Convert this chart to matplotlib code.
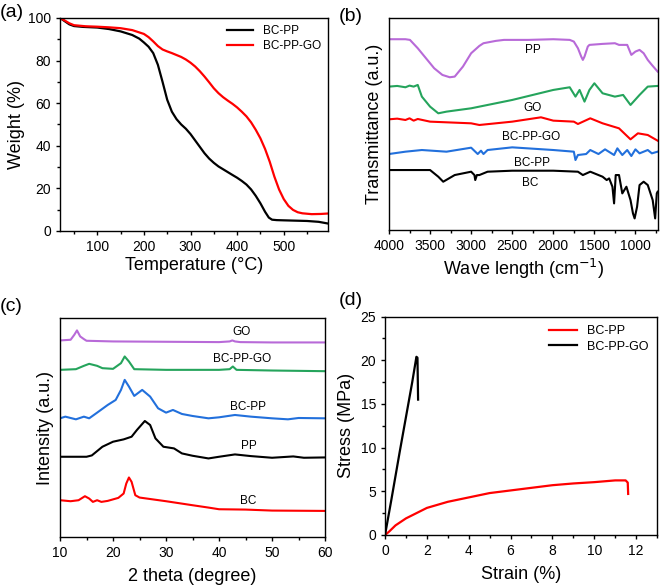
import matplotlib.pyplot as plt
from matplotlib.ticker import MultipleLocator

plt.rcParams['font.family'] = ['Liberation Sans', 'DejaVu Sans']

# (a) TGA
tga_t = [20, 30, 40, 50, 70, 100, 125, 150, 175, 190, 200, 210, 220, 230, 240, 250, 260, 270,
         280, 290, 300, 310, 320, 330, 340, 350, 360, 375, 390, 400, 410, 420, 430, 440, 450,
         460, 468, 475, 485, 500, 550, 575, 595]
tga_bcpp = [100, 98.5, 97, 96.2, 95.8, 95.5, 94.8, 93.7, 92, 90.3, 88.5, 86.5, 83.5, 78, 70,
            61.6, 56, 52.5, 50, 48, 45.5, 42.5, 39.5, 36.5, 34, 32, 30.3, 28.3, 26.3, 25, 23.5,
            21.8, 19.5, 16.5, 13, 9, 6.3, 5.3, 5.1, 5, 4.7, 4.3, 3.5]
tga_t2 = [20, 30, 40, 50, 75, 100, 125, 150, 175, 200, 210, 220, 230, 240, 250, 260, 270, 280,
          290, 300, 310, 320, 330, 340, 350, 360, 370, 380, 390, 400, 410, 420, 430, 440, 450,
          460, 470, 480, 490, 500, 510, 520, 530, 540, 560, 580, 595]
tga_go = [100, 98.8, 97.5, 96.6, 96.1, 95.9, 95.6, 95.2, 94.3, 92.5, 91, 89, 86.8, 85.2, 84.3,
          83.5, 82.6, 81.7, 80.5, 79, 77.2, 75, 72.5, 69.8, 67, 64.7, 62.8, 61.2, 59.7, 58, 56,
          53.8, 51, 47.5, 43.5, 38.5, 32.5, 25.5, 19.5, 15, 11.8, 9.9, 8.8, 8.3, 7.9, 8.0, 8.2]

# (b) FTIR (arbitrary units)
ir_pp_x = [4000, 3900, 3800, 3745, 3650, 3550, 3450, 3350, 3260, 3200, 3100, 3000, 2900, 2850,
           2700, 2600, 2300, 2000, 1800, 1750, 1700, 1660, 1640, 1620, 1580, 1560, 1400, 1250,
           1200, 1100, 1050, 1000, 950, 900, 850, 800, 730]
ir_pp_y = [572, 572, 572, 570, 545, 515, 485, 465, 458, 460, 490, 530, 552, 560, 567, 570, 570,
           572, 570, 565, 545, 520, 510, 520, 550, 555, 558, 560, 555, 555, 525, 535, 540, 530,
           510, 495, 475]
ir_go_x = [4000, 3900, 3800, 3750, 3700, 3650, 3600, 3500, 3400, 3300, 3000, 2500, 2000, 1800,
           1730, 1680, 1620, 1560, 1500, 1400, 1250, 1150, 1060, 950, 850, 730]
ir_go_y = [430, 432, 428, 433, 430, 435, 400, 370, 350, 355, 365, 390, 420, 428, 400, 420, 385,
           420, 440, 410, 400, 405, 375, 405, 430, 432]
ir_bcppgo_x = [4000, 3900, 3800, 3750, 3700, 3650, 3500, 3000, 2900, 2500, 2150, 2000, 1750, 1700,
               1550, 1400, 1200, 1060, 970, 850, 730]
ir_bcppgo_y = [332, 334, 330, 335, 328, 333, 325, 320, 315, 325, 338, 328, 325, 318, 335, 320,
               305, 272, 290, 285, 268]
ir_bcpp_x = [4000, 3800, 3600, 3300, 3000, 2920, 2880, 2850, 2800, 2500, 2000, 1750, 1730, 1700,
             1600, 1550, 1450, 1370, 1260, 1220, 1160, 1100, 1050, 1000, 950, 850, 800, 730]
ir_bcpp_y = [228, 235, 240, 235, 247, 228, 238, 228, 240, 248, 240, 235, 210, 225, 228, 240, 228,
             242, 225, 245, 225, 240, 222, 242, 230, 240, 230, 235]
ir_bc_x = [4000, 3700, 3500, 3400, 3340, 3200, 3000, 2960, 2950, 2930, 2900, 2800, 2500, 2000,
           1700, 1640, 1550, 1450, 1400, 1350, 1320, 1280, 1260, 1240, 1200, 1160, 1110, 1060,
           1030, 1010, 980, 950, 900, 850, 790, 760, 740, 730]
ir_bc_y = [180, 180, 180, 160, 145, 165, 175, 165, 150, 165, 165, 175, 178, 178, 175, 165, 175,
           165, 160, 150, 155, 130, 80, 165, 165, 110, 130, 90, 50, 35, 70, 135, 145, 135, 90,
           35, 110, 115]

# (c) XRD (arbitrary units)
xrd_go_x = [10, 12, 12.7, 13.2, 13.8, 14.5, 15, 20, 30, 40, 42, 42.5, 43, 44, 50, 60]
xrd_go_y = [588, 590, 605, 618, 600, 592, 587, 585, 584, 583, 585, 588, 585, 583, 582, 582]
xrd_bcppgo_x = [10, 13, 14.5, 15.5, 17, 18, 20, 21.5, 22.2, 23, 24, 30, 40, 42, 42.6, 43.3, 50, 60]
xrd_bcppgo_y = [500, 502, 512, 518, 512, 505, 503, 520, 540, 525, 502, 500, 500, 502, 510, 500, 498, 496]
xrd_bcpp_x = [10, 11, 12, 13, 14.5, 15.5, 17, 19, 20.5, 21.5, 22.2, 23, 24, 25.5, 27, 28.5, 30,
              31.3, 33, 35, 38, 40, 43, 46, 50, 53, 55, 60]
xrd_bcpp_y = [355, 360, 356, 352, 360, 355, 372, 395, 410, 440, 470, 450, 422, 440, 420, 385, 372,
              380, 368, 362, 355, 358, 365, 360, 355, 352, 356, 355]
xrd_pp_x = [10, 15, 16, 18, 20, 22, 23.5, 24.5, 26, 27, 28, 29.5, 31.5, 33, 35, 38, 40, 43, 46,
            50, 54, 56, 60]
xrd_pp_y = [240, 240, 244, 270, 285, 292, 300, 320, 347, 335, 295, 270, 265, 250, 243, 235, 240,
            247, 242, 237, 241, 237, 238]
xrd_bc_x = [10, 12, 13.5, 14.7, 15.5, 16.2, 17, 17.8, 19, 21, 22, 22.5, 23, 23.5, 24.2, 25, 30,
            35, 38, 40, 45, 50, 60]
xrd_bc_y = [110, 107, 110, 122, 115, 105, 110, 105, 108, 117, 130, 160, 178, 165, 125, 118, 107,
            95, 88, 83, 82, 79, 78]

# (d) stress-strain
ss_bcpp_x = [0, 0.2, 0.5, 1, 1.5, 2, 3, 4, 5, 6, 7, 8, 9, 10, 11, 11.5, 11.6, 11.62]
ss_bcpp_y = [0, 0.4, 1.1, 1.9, 2.5, 3.1, 3.8, 4.3, 4.8, 5.1, 5.4, 5.7, 5.9, 6.05, 6.25, 6.25, 6.0, 4.7]
ss_go_x = [0, 0.3, 0.7, 1.0, 1.3, 1.5, 1.55, 1.58]
ss_go_y = [0, 4, 9.5, 13.5, 17.5, 20.4, 20.3, 15.5]

purple = '#b86ad8'
green = '#25a45c'
blue = '#2270dc'
red = '#ff0000'

fig = plt.figure(figsize=(6.61, 5.87), dpi=100)
axa = fig.add_axes([0.0908, 0.6065, 0.4054, 0.3629])
axb = fig.add_axes([0.5885, 0.608, 0.407, 0.361])
axc = fig.add_axes([0.0908, 0.0852, 0.401, 0.373])
axd = fig.add_axes([0.5825, 0.0886, 0.4115, 0.372])

for ax in (axa, axb, axc, axd):
    ax.tick_params(direction='out', labelsize=10, length=3, width=1)
    ax.tick_params(which='minor', direction='out', length=2, width=1)
    for s in ax.spines.values():
        s.set_linewidth(1)

# (a)
axa.plot(tga_t, tga_bcpp, color='black', lw=1.6, label='BC-PP')
axa.plot(tga_t2, tga_go, color=red, lw=1.6, label='BC-PP-GO')
axa.set_xlim(20, 595)
axa.set_ylim(0, 100)
axa.xaxis.set_major_locator(MultipleLocator(100))
axa.xaxis.set_minor_locator(MultipleLocator(50))
axa.yaxis.set_major_locator(MultipleLocator(20))
axa.yaxis.set_minor_locator(MultipleLocator(10))
axa.set_xlabel('Temperature (°C)', fontsize=13, labelpad=2)
axa.set_ylabel('Weight (%)', fontsize=13, labelpad=2)
axa.legend(loc='upper right', frameon=False, fontsize=8.5, handlelength=2.2,
           borderaxespad=0.2, labelspacing=0.25)

# (b)
axb.plot(ir_pp_x, ir_pp_y, color=purple, lw=1.5)
axb.plot(ir_go_x, ir_go_y, color=green, lw=1.5)
axb.plot(ir_bcppgo_x, ir_bcppgo_y, color=red, lw=1.5)
axb.plot(ir_bcpp_x, ir_bcpp_y, color=blue, lw=1.5)
axb.plot(ir_bc_x, ir_bc_y, color='black', lw=1.5)
for txt, x, y in [('PP', 2245, 540), ('GO', 2253, 365), ('BC-PP-GO', 2265, 280),
                  ('BC-PP', 2265, 200), ('BC', 2285, 142)]:
    axb.text(x, y, txt, fontsize=8.5, ha='center', va='center')
axb.set_xlim(4000, 725)
axb.set_ylim(0, 635)
axb.set_yticks([])
axb.xaxis.set_major_locator(MultipleLocator(500))
axb.xaxis.set_minor_locator(MultipleLocator(250))
axb.set_xlabel('Wave length (cm$^{-1}$)', fontsize=13, labelpad=3)
axb.set_ylabel('Transmittance (a.u.)', fontsize=13, labelpad=4)

# (c)
axc.plot(xrd_go_x, xrd_go_y, color=purple, lw=1.5)
axc.plot(xrd_bcppgo_x, xrd_bcppgo_y, color=green, lw=1.5)
axc.plot(xrd_bcpp_x, xrd_bcpp_y, color=blue, lw=1.5)
axc.plot(xrd_pp_x, xrd_pp_y, color='black', lw=1.5)
axc.plot(xrd_bc_x, xrd_bc_y, color=red, lw=1.5)
for txt, x, y in [('GO', 44.2, 612), ('BC-PP-GO', 44.4, 533), ('BC-PP', 45.5, 390),
                  ('PP', 45.7, 272), ('BC', 45.5, 107)]:
    axc.text(x, y, txt, fontsize=8.5, ha='center', va='center')
axc.set_xlim(10, 60)
axc.set_ylim(0, 655)
axc.set_yticks([])
axc.xaxis.set_major_locator(MultipleLocator(10))
axc.xaxis.set_minor_locator(MultipleLocator(5))
axc.set_xlabel('2 theta (degree)', fontsize=13, labelpad=6)
axc.set_ylabel('Intensity (a.u.)', fontsize=13, labelpad=4)

# (d)
axd.plot(ss_bcpp_x, ss_bcpp_y, color=red, lw=1.6, label='BC-PP')
axd.plot(ss_go_x, ss_go_y, color='black', lw=1.6, label='BC-PP-GO')
axd.set_xlim(0, 13)
axd.set_ylim(0, 25)
axd.xaxis.set_major_locator(MultipleLocator(2))
axd.xaxis.set_minor_locator(MultipleLocator(1))
axd.yaxis.set_major_locator(MultipleLocator(5))
axd.yaxis.set_minor_locator(MultipleLocator(2.5))
axd.set_xlabel('Strain (%)', fontsize=13, labelpad=6)
axd.set_ylabel('Stress (MPa)', fontsize=13, labelpad=4)
axd.legend(loc='upper right', frameon=False, fontsize=9, handlelength=2.2,
           borderaxespad=0.3, labelspacing=0.25)

# panel letters
fig.text(0.0, 0.978, '(a)', fontsize=14, va='center', ha='left')
fig.text(0.513, 0.972, '(b)', fontsize=14, va='center', ha='left')
fig.text(0.0, 0.478, '(c)', fontsize=14, va='center', ha='left')
fig.text(0.513, 0.488, '(d)', fontsize=14, va='center', ha='left')

fig.savefig('out.png', dpi=100)
